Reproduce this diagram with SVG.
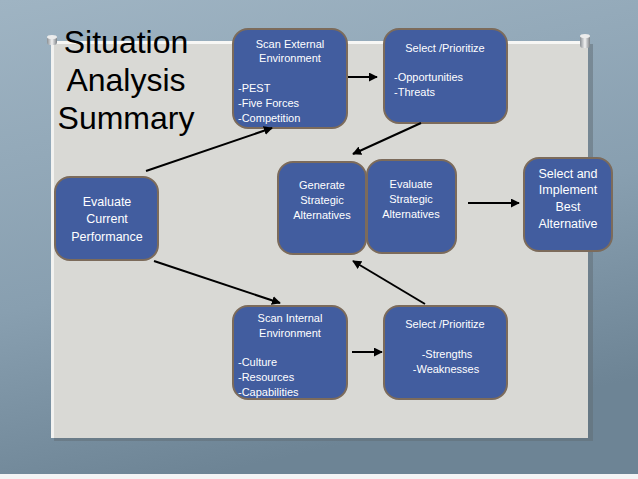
<svg xmlns="http://www.w3.org/2000/svg" width="638" height="479" viewBox="0 0 638 479">
<defs>
<linearGradient id="bg" x1="0" y1="0" x2="0.3" y2="1">
<stop offset="0" stop-color="#9fb4c3"/>
<stop offset="0.6" stop-color="#889fb0"/>
<stop offset="1" stop-color="#6d8495"/>
</linearGradient>
<linearGradient id="pin" x1="0" y1="0" x2="1" y2="0">
<stop offset="0" stop-color="#8a8f94"/>
<stop offset="0.5" stop-color="#f2f2f2"/>
<stop offset="1" stop-color="#7b8085"/>
</linearGradient>
<marker id="ah" viewBox="0 0 10 10" refX="9" refY="5" markerWidth="4.5" markerHeight="4.5" orient="auto-start-reverse">
<path d="M0,0 L10,5 L0,10 z" fill="#000"/>
</marker>
<style>
.box{fill:#425d9f;stroke:#7c6b5b;stroke-width:2}
.t{font-family:"Liberation Sans",Arial,sans-serif;font-size:11px;fill:#fff}
.tl{font-family:"Liberation Sans",Arial,sans-serif;font-size:12.5px;fill:#fff}
.c{text-anchor:middle}
.title{font-family:"Liberation Sans",Arial,sans-serif;font-size:32px;fill:#000;text-anchor:middle}
.conn{stroke:#000;stroke-width:2;fill:none;marker-end:url(#ah)}
</style>
</defs>
<rect x="0" y="0" width="638" height="479" fill="url(#bg)"/>
<rect x="0" y="474" width="638" height="5" fill="#f3f4f5"/>
<!-- board -->
<rect x="54" y="44" width="539" height="397" fill="#5f6b74" opacity="0.5"/>
<rect x="51" y="41" width="537" height="397" fill="#d9d9d5"/>
<rect x="51" y="41" width="537" height="3" fill="#f7f7f5"/>
<rect x="51" y="41" width="3" height="397" fill="#f2f2f0"/>
<!-- pins -->
<g>
<rect x="47" y="36" width="10" height="9" rx="3" fill="url(#pin)"/>
<ellipse cx="52" cy="37" rx="5" ry="2" fill="#ececec"/>
<rect x="580" y="35" width="10" height="13" rx="3" fill="url(#pin)"/>
<ellipse cx="585" cy="36" rx="5" ry="2" fill="#ececec"/>
</g>
<g id="title">
<text class="title" x="126" y="53">Situation</text>
<text class="title" x="126" y="91">Analysis</text>
<text class="title" x="126" y="129">Summary</text>
</g>
<g id="scan-external">
<rect class="box" x="233" y="29" width="114" height="99" rx="15"/>
<text class="t c" x="290" y="48">Scan External</text>
<text class="t c" x="290" y="62">Environment</text>
<text class="t" x="238" y="92">-PEST</text>
<text class="t" x="238" y="107">-Five Forces</text>
<text class="t" x="238" y="122">-Competition</text>
</g>
<g id="select-opportunities">
<rect class="box" x="384" y="29" width="123" height="94" rx="15"/>
<text class="t c" x="445" y="52">Select /Prioritize</text>
<text class="t" x="394" y="81">-Opportunities</text>
<text class="t" x="394" y="96">-Threats</text>
</g>
<g id="evaluate-current">
<rect class="box" x="55" y="177" width="103" height="83" rx="15"/>
<text class="tl c" x="107" y="206">Evaluate</text>
<text class="tl c" x="107" y="223">Current</text>
<text class="tl c" x="107" y="241">Performance</text>
</g>
<g id="generate">
<rect class="box" x="278" y="162" width="88" height="92" rx="15"/>
<text class="t c" x="322" y="189">Generate</text>
<text class="t c" x="322" y="204">Strategic</text>
<text class="t c" x="322" y="219">Alternatives</text>
</g>
<g id="evaluate-strategic">
<rect class="box" x="367" y="160" width="89" height="93" rx="15"/>
<text class="t c" x="411" y="188">Evaluate</text>
<text class="t c" x="411" y="203">Strategic</text>
<text class="t c" x="411" y="218">Alternatives</text>
</g>
<g id="select-implement">
<rect class="box" x="524" y="158" width="88" height="93" rx="15"/>
<text class="tl c" x="568" y="178">Select and</text>
<text class="tl c" x="568" y="194">Implement</text>
<text class="tl c" x="568" y="211">Best</text>
<text class="tl c" x="568" y="228">Alternative</text>
</g>
<g id="scan-internal">
<rect class="box" x="233" y="306" width="114" height="93" rx="15"/>
<text class="t c" x="290" y="322">Scan Internal</text>
<text class="t c" x="290" y="337">Environment</text>
<text class="t" x="238" y="366">-Culture</text>
<text class="t" x="238" y="381">-Resources</text>
<text class="t" x="238" y="396">-Capabilities</text>
</g>
<g id="select-strengths">
<rect class="box" x="384" y="306" width="123" height="93" rx="15"/>
<text class="t c" x="445" y="328">Select /Prioritize</text>
<text class="t c" x="447" y="358">-Strengths</text>
<text class="t c" x="446" y="373">-Weaknesses</text>
</g>
<g id="connectors">
<line class="conn" x1="348" y1="77" x2="377" y2="77"/>
<line class="conn" x1="421" y1="123" x2="353" y2="154"/>
<line class="conn" x1="146" y1="171" x2="272" y2="128"/>
<line class="conn" x1="154" y1="261" x2="280" y2="303"/>
<line class="conn" x1="425" y1="304" x2="353" y2="261"/>
<line class="conn" x1="468" y1="203" x2="519" y2="203"/>
<line class="conn" x1="352" y1="352" x2="382" y2="352"/>
</g>
</svg>
